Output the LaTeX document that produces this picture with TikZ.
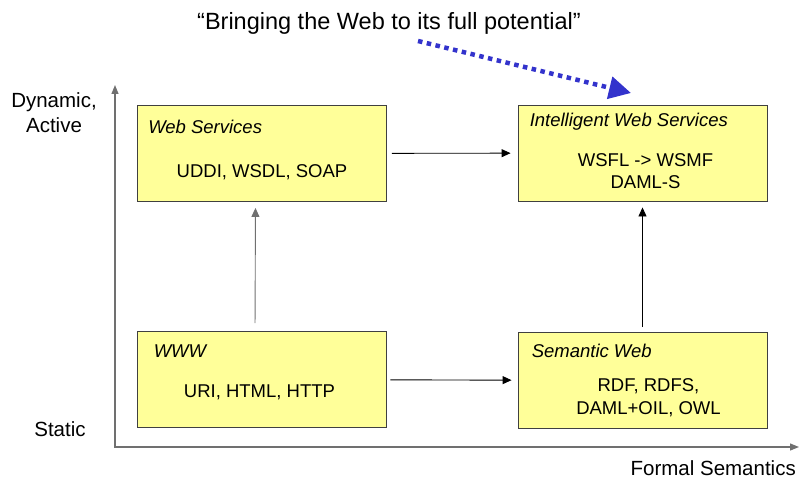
\documentclass[tikz,border=0pt]{standalone}
\usepackage{fontspec}
\setmainfont{Liberation Sans}
\usetikzlibrary{arrows.meta,calc}
\definecolor{boxyellow}{HTML}{FFFF99}
\definecolor{axisgray}{HTML}{707070}
\definecolor{quoteblue}{HTML}{3333CC}

\tikzset{
  box/.style={draw=black!75, fill=boxyellow, line width=0.9pt,
              minimum width=249pt, minimum height=96pt, inner sep=0pt},
  boxtitle/.style={anchor=base west, inner sep=0pt,
                   font=\fontsize{18.5}{22.5}\selectfont\itshape},
  boxtext/.style={anchor=base, inner sep=0pt, align=center,
                  font=\fontsize{18.5}{22.5}\selectfont},
  axislabel/.style={anchor=base, inner sep=0pt, align=center,
                    font=\fontsize{20.5}{25.5}\selectfont},
  flow/.style={line width=0.9pt, -{Triangle[length=9pt,width=8pt]}},
  axis/.style={draw=axisgray, line width=1.2pt, -{Triangle[length=9pt,width=7pt]}}
}

\begin{document}
\begin{tikzpicture}[x=1pt, y=-1pt]
    \useasboundingbox (0,0) rectangle (799,481);

    \coordinate (origin) at (115,447);
    \coordinate (ytop) at (115,85);
    \coordinate (xend) at (799,447);
    \draw[axis] (origin) -- (ytop);
    \draw[axis] ([xshift=-0.6pt]origin) -- (xend);

    % base of a two-line node is the baseline of its last line
    \node[axislabel] (dyn) at (54,133) {Dynamic,\\Active};
    \node[axislabel] (static) at (60,436) {Static};
    \node[axislabel, anchor=base east] (formal) at (796,475) {Formal Semantics};

    \node[box] (ws) at (262,153.5) {};
    \node[box] (iws) at (642.5,153) {};
    \node[box] (www) at (261.5,379.5) {};
    \node[box] (sw) at (642.5,380.5) {};

    \node[boxtitle] (wstitle) at ($(ws.north west)+(11,28)$) {Web Services};
    \node[boxtext] (wstext) at ($(ws.north)+(0,72)$) {UDDI, WSDL, SOAP};

    \node[boxtitle] (iwstitle) at ($(iws.north west)+(12,22)$) {Intelligent Web Services};
    \node[boxtext] (iwstext) at ($(iws.north)+(3,84)$) {WSFL -> WSMF\\DAML-S};

    \node[boxtitle] (wwwtitle) at ($(www.north west)+(17,26)$) {WWW};
    \node[boxtext] (wwwtext) at ($(www.north)+(-2,66)$) {URI, HTML, HTTP};

    \node[boxtitle] (swtitle) at ($(sw.north west)+(14,25)$) {Semantic Web};
    \node[boxtext] (swtext) at ($(sw.north)+(6,82)$) {RDF, RDFS,\\DAML+OIL, OWL};

    \draw[flow, shorten <=5pt, shorten >=7pt] (ws) -- (iws);
    \draw[flow, shorten <=4pt, shorten >=6pt] (www) -- (sw);
    \draw[flow, draw=axisgray, shorten <=8pt, shorten >=6pt]
      ([xshift=-6.5pt]www.north) -- ([xshift=-6.5pt]ws.south);
    \draw[flow, shorten <=5pt, shorten >=6pt] (sw.north) -- (iws.south);

    \node[anchor=base, inner sep=0pt, font=\fontsize{23.5}{28}\selectfont]
      (quote) at (389,30) {``Bringing the Web to its full potential''};
    \coordinate (quotestart) at (418,41);
    \coordinate (quotetip) at (631,93);
    \draw[quoteblue, line width=4.5pt, dash pattern=on 4.5pt off 4.5pt,
          -{Triangle[length=22pt,width=22pt]}] (quotestart) -- (quotetip);
  \end{tikzpicture}
\end{document}
